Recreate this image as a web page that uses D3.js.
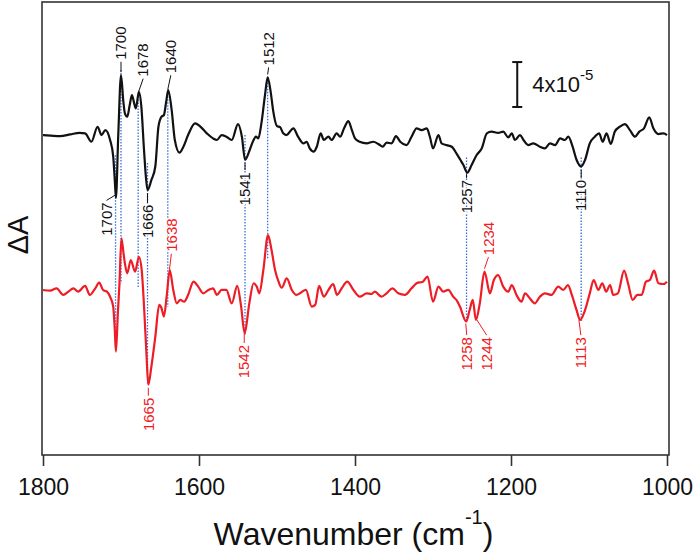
<!DOCTYPE html>
<html>
<head>
<meta charset="utf-8">
<script src="https://cdn.jsdelivr.net/npm/d3@7"></script>
<style>
  html, body { margin: 0; padding: 0; background: #fff; }
  svg { display: block; font-family: Arial, "Liberation Sans", sans-serif; }
</style>
</head>
<body>
<svg id="chart" width="693" height="555"></svg>
<script>
// difference spectra, values in units of 1e-5 (ΔA)
const blackWn = [1800, 1790, 1778, 1765, 1753, 1746, 1738, 1730, 1725, 1720, 1714, 1710, 1708, 1706.5, 1703.5, 1700,
  1697, 1695, 1692, 1689, 1686, 1683, 1681, 1677, 1674, 1670.5, 1668, 1666, 1661, 1656, 1652, 1648, 1645, 1642,
  1639.5, 1635, 1631, 1625, 1620, 1614, 1605, 1599, 1590, 1582, 1577, 1571, 1565, 1558, 1550, 1545, 1541, 1535,
  1530, 1527, 1524, 1520, 1515.5, 1512, 1508, 1505, 1500, 1496, 1492, 1488, 1479, 1473, 1466, 1462, 1458, 1453,
  1449, 1444, 1440, 1434, 1430, 1423.5, 1419, 1414, 1408.5, 1404, 1400, 1394, 1385, 1376.5, 1370, 1364.5, 1359.5,
  1353, 1347.5, 1342, 1334, 1327.5, 1321, 1314.5, 1308, 1304, 1300, 1293, 1289, 1282.5, 1276, 1270, 1265, 1261,
  1256, 1250.5, 1244, 1237.5, 1231, 1225, 1216.5, 1210, 1203.5, 1199, 1195, 1188.5, 1184, 1178, 1171.5, 1163,
  1156.5, 1150, 1143.5, 1137, 1131, 1126.5, 1121, 1116, 1110, 1105, 1099, 1092.5, 1087, 1082.5, 1077.5, 1072,
  1067, 1060.5, 1054, 1047.5, 1041, 1035.5, 1029.5, 1022.7, 1017.5, 1011, 1004.5, 1000];
const blackDA = [0, -0.05, -0.1, 0.06, 0.2, 0.15, -0.6, 0.74, 0, 0.44, -0.44, -1.9, -4.0, -5.6, 0, 5.33,
  3.0, 1.93, 1.63, 2.6, 3.56, 2.8, 2.37, 3.85, 2.6, -1.33, -3.8, -4.9, -4.0, -2.8, 0.74, 1.63, 1.78, 3.0,
  4.0, 2.2, -0.44, -1.57, -1.04, 0, 1.04, 0.8, 0.15, -0.3, -0.44, 0, -0.15, -0.44, 0.98, -0.15, -2.2, -1.33,
  -0.44, -0.15, -0.3, 1.04, 3.5, 5.13, 3.8, 2.2, 0.8, 0.7, 0.15, 0, 0.6, -0.15, -0.74, -0.6, -1.19, -1.48,
  -1.04, 0.15, -0.44, -0.15, -0.44, 0.15, -0.15, 0.6, 1.24, 0.44, -0.3, -0.6, -0.74, -0.6, -0.8, -1.04, -0.68,
  -0.74, -0.09, -0.6, -0.89, -0.15, 0.6, 0.44, 0.6, -0.15, -1.19, 0, -0.74, -0.9, -1.04, -1.63, -2.2, -2.67,
  -3.35, -2.67, -1.78, -1.19, 0.15, 0.3, 0.2, 0.3, -0.2, 0.15, -0.44, 0, -0.44, -0.89, -0.74, -1.04,
  -1.19, -0.74, -0.89, -0.3, -0.44, -0.15, -1.04, -2.2, -2.8, -2.2, -0.74, -0.15, 0.15, -0.6, 0.15, -0.8,
  0.3, 0.74, 0.98, 0.44, -0.15, 0.3, 0.6, 1.57, 0.6, 0.09, 0.15, 0];

const redWn = [1800, 1791, 1782.5, 1774, 1767.5, 1761, 1755, 1746, 1740, 1733, 1728, 1723, 1718, 1714, 1710, 1708,
  1706.5, 1704, 1702, 1699.5, 1697, 1695, 1692, 1687.5, 1682, 1677, 1673.5, 1670, 1667.5, 1665, 1661, 1656, 1651,
  1648, 1645, 1641.5, 1637.5, 1633, 1628.5, 1624, 1619, 1614, 1607, 1601, 1594.5, 1588, 1582, 1577, 1571, 1565,
  1558, 1551, 1546, 1541.5, 1535.5, 1530, 1526, 1522.6, 1517.5, 1511.5, 1507, 1502.5, 1498, 1494, 1487.5, 1481,
  1475, 1463, 1455.5, 1451, 1446, 1440, 1434, 1428, 1423, 1417, 1410, 1402, 1394, 1385, 1379, 1374.5, 1366,
  1359.5, 1352, 1344.5, 1336, 1327.5, 1321, 1313, 1307, 1300, 1293, 1287, 1280.5, 1274, 1270, 1265.5, 1257.5,
  1253, 1249, 1245, 1240, 1234, 1227, 1222, 1216.5, 1210, 1203.5, 1199, 1193, 1186.5, 1182, 1176, 1169.5, 1163,
  1156.5, 1148, 1139.5, 1133, 1127, 1122, 1116, 1111.5, 1105, 1099, 1094, 1088, 1083, 1078, 1073, 1069, 1063,
  1055, 1050, 1044, 1038, 1032.5, 1027, 1022, 1016.5, 1011, 1004.5, 1000];
const redDA = [0, -0.06, 0.15, -0.44, -0.15, 0.15, -0.15, 0.36, -0.44, 0.15, 0.65, 0, -0.15, -0.6, -1.48, -3.5,
  -5.5, -2.0, 0.5, 4.6, 3.4, 2.37, 1.48, 2.67, 1.63, 2.96, 1.78, -2.07, -5.5, -8.44, -6.8, -4.15, -1.33,
  -1.63, -2.37, -0.6, 1.78, 0, -1.19, -0.89, -1.04, -0.44, 0.74, 0.3, -0.3, 0, 0.15, -0.44, 0, 0,
  -1.19, 0.36, -1.48, -3.85, -1.19, 0.6, 0.3, -0.3, 1.78, 4.89, 3.56, 1.78, 0.74, 0.2, 1.04, 0,
  -0.44, 0, -1.48, -1.33, 0.36, -0.6, 0, 0.53, -0.44, 0.15, 0.74, 0, -0.6, -0.3, -0.36, -0.15, -0.6,
  -0.3, 0.15, -0.3, -0.44, 0.15, 0.6, 0.74, 1.19, -1.04, 0.3, -0.15, 0, -0.6, -0.89, -1.48, -2.81,
  -1.78, -0.89, -2.67, -1.19, 1.63, -0.3, 0.89, 1.33, 0.3, -0.15, 0.44, -0.44, -1.04, -0.3, -0.74, -1.19, -0.6,
  -0.3, -0.44, 0.3, 0, 0.44, -0.44, -1.78, -2.67, -1.78, -0.3, 0.89, 0, 0.6, -0.15, 0.44, -0.44, -0.3,
  1.72, 0.6, -0.89, -0.44, -0.44, 0.74, 0.89, 1.72, 0.6, 0.53, 0.74];

const xTicks = [1800, 1600, 1400, 1200, 1000];

// peak labels: text, wavenumber, trace, side, where the text begins (trace units), x shift
const peakLabels = [
  ['1700', 1700, 'black', 'up', 6.7, 0],
  ['1678', 1678, 'black', 'up', 5.2, 5],
  ['1640', 1640, 'black', 'up', 5.5, 3],
  ['1512', 1512, 'black', 'up', 6.2, 1],
  ['1707', 1707, 'black', 'down', -6.0, -9],
  ['1666', 1666, 'black', 'down', -6.2, 0],
  ['1541', 1541, 'black', 'down', -3.3, 0],
  ['1257', 1257, 'black', 'down', -4.0, 0],
  ['1110', 1110, 'black', 'down', -4.0, 0],
  ['1638', 1638, 'red', 'up', 3.4, 2],
  ['1234', 1234, 'red', 'up', 3.1, 4],
  ['1665', 1665, 'red', 'down', -9.6, 0],
  ['1542', 1542, 'red', 'down', -4.9, 0],
  ['1258', 1258, 'red', 'down', -4.2, 1],
  ['1244', 1244, 'red', 'down', -4.2, 10],
  ['1113', 1113, 'red', 'down', -4.2, 2]
];

// dotted guides: wavenumber, start on black trace, end on red trace
const guides = [
  [1707, -1.8, -5.4], [1700, 5.8, 0.6], [1678, 3.7, 0.2], [1666, -2.5, -8.4], [1640, 4.0, -1.5],
  [1541, 0, -4.0], [1512, 5.2, 2.8], [1257, -2.0, -2.8], [1110, -2.0, -2.8]
];

const redShift = -13.8;          // vertical stacking of the red trace
const scaleBar = { wn: 1192, from: 2.5, len: 4 };

const colors = { black: '#111', red: '#ee1c24', guide: '#3a6fd8', frame: '#333' };

const width = 693, height = 555;
const frame = { left: 42, right: 669, top: 2, bottom: 455 };

const svg = d3.select('#chart');

const x = d3.scaleLinear().domain([1800, 1000]).range([43, 667]);
const y = d3.scaleLinear().domain([-28.5, 11.85]).range([frame.bottom, frame.top]);

const traces = {
  black: { wn: blackWn, v: blackDA, off: 0 },
  red: { wn: redWn, v: redDA, off: redShift }
};

// linear lookup of a trace value at a wavenumber
function valueAt(name, wn) {
  const t = traces[name];
  for (let i = 0; i < t.wn.length - 1; i++) {
    const a = t.wn[i], b = t.wn[i + 1];
    if (wn <= a && wn >= b) {
      const f = (a - wn) / (a - b);
      return t.v[i] + f * (t.v[i + 1] - t.v[i]);
    }
  }
  return 0;
}

// frame
svg.append('rect')
  .attr('x', frame.left).attr('y', frame.top)
  .attr('width', frame.right - frame.left).attr('height', frame.bottom - frame.top)
  .attr('fill', 'none').attr('stroke', colors.frame).attr('stroke-width', 1.6);

// x axis
const xAxis = svg.append('g')
  .attr('transform', `translate(0,${frame.bottom})`)
  .call(d3.axisBottom(x).tickValues(xTicks).tickSize(11).tickPadding(13).tickFormat(d3.format('d')));
xAxis.select('.domain').remove();
xAxis.selectAll('.tick line').attr('stroke', colors.frame).attr('stroke-width', 1.6);
xAxis.selectAll('.tick text')
  .attr('fill', '#111')
  .attr('font-size', '23px')
  .attr('font-family', 'Arial, "Liberation Sans", sans-serif');

// axis titles
const xTitle = svg.append('text')
  .attr('x', (frame.left + frame.right) / 2 - 2)
  .attr('y', 545)
  .attr('text-anchor', 'middle')
  .attr('font-size', '32px')
  .attr('fill', '#111');
xTitle.append('tspan').text('Wavenumber (cm');
xTitle.append('tspan').attr('font-size', '20px').attr('dy', -21).text('-1');
xTitle.append('tspan').attr('dy', 21).text(')');

svg.append('text')
  .attr('transform', 'translate(28,235) rotate(-90)')
  .attr('text-anchor', 'middle')
  .attr('font-size', '29px')
  .attr('fill', '#111')
  .text('ΔA');

// dotted guides
svg.append('g').selectAll('line')
  .data(guides)
  .join('line')
  .attr('x1', d => x(d[0])).attr('x2', d => x(d[0]))
  .attr('y1', d => y(d[1])).attr('y2', d => y(d[2] + redShift))
  .attr('stroke', colors.guide)
  .attr('stroke-width', 1.3)
  .attr('stroke-dasharray', '1.5,1.5');

// spectra
const line = d3.line().curve(d3.curveMonotoneX);
Object.keys(traces).forEach(name => {
  const t = traces[name];
  svg.append('path')
    .attr('d', line(t.wn.map((w, i) => [x(w), y(t.v[i] + t.off)])))
    .attr('fill', 'none')
    .attr('stroke', colors[name])
    .attr('stroke-width', 2.2)
    .attr('stroke-linejoin', 'round');
});

// peak labels with leaders
const lab = svg.append('g');
peakLabels.forEach(([txt, wn, name, side, at, dx]) => {
  const off = traces[name].off;
  const up = side === 'up';
  const px = x(wn);
  const py = y(valueAt(name, wn) + off);
  const ty = y(at + off);
  lab.append('line')
    .attr('x1', px).attr('y1', up ? py - 3 : py + 3)
    .attr('x2', px + dx).attr('y2', up ? ty + 2 : ty - 2)
    .attr('stroke', colors[name]).attr('stroke-width', 1);
  lab.append('text')
    .attr('transform', `translate(${px + dx},${ty}) rotate(-90)`)
    .attr('text-anchor', up ? 'start' : 'end')
    .attr('dy', '0.35em')
    .attr('font-size', '15px')
    .attr('fill', colors[name])
    .attr('stroke', '#fff').attr('stroke-width', 2.5).attr('paint-order', 'stroke')
    .text(txt);
});

// scale bar
const sb = svg.append('g').attr('stroke', '#111').attr('stroke-width', 2);
const sx = x(scaleBar.wn);
sb.append('line').attr('x1', sx).attr('x2', sx)
  .attr('y1', y(scaleBar.from)).attr('y2', y(scaleBar.from + scaleBar.len));
[scaleBar.from, scaleBar.from + scaleBar.len].forEach(v => {
  sb.append('line').attr('x1', sx - 5).attr('x2', sx + 5).attr('y1', y(v)).attr('y2', y(v));
});
const sbText = svg.append('text')
  .attr('x', sx + 15)
  .attr('y', y(scaleBar.from + scaleBar.len / 2) + 7)
  .attr('font-size', '22px')
  .attr('fill', '#111');
sbText.append('tspan').text('4x10');
sbText.append('tspan').attr('font-size', '15px').attr('dy', -12).text('-5');
</script>
</body>
</html>
